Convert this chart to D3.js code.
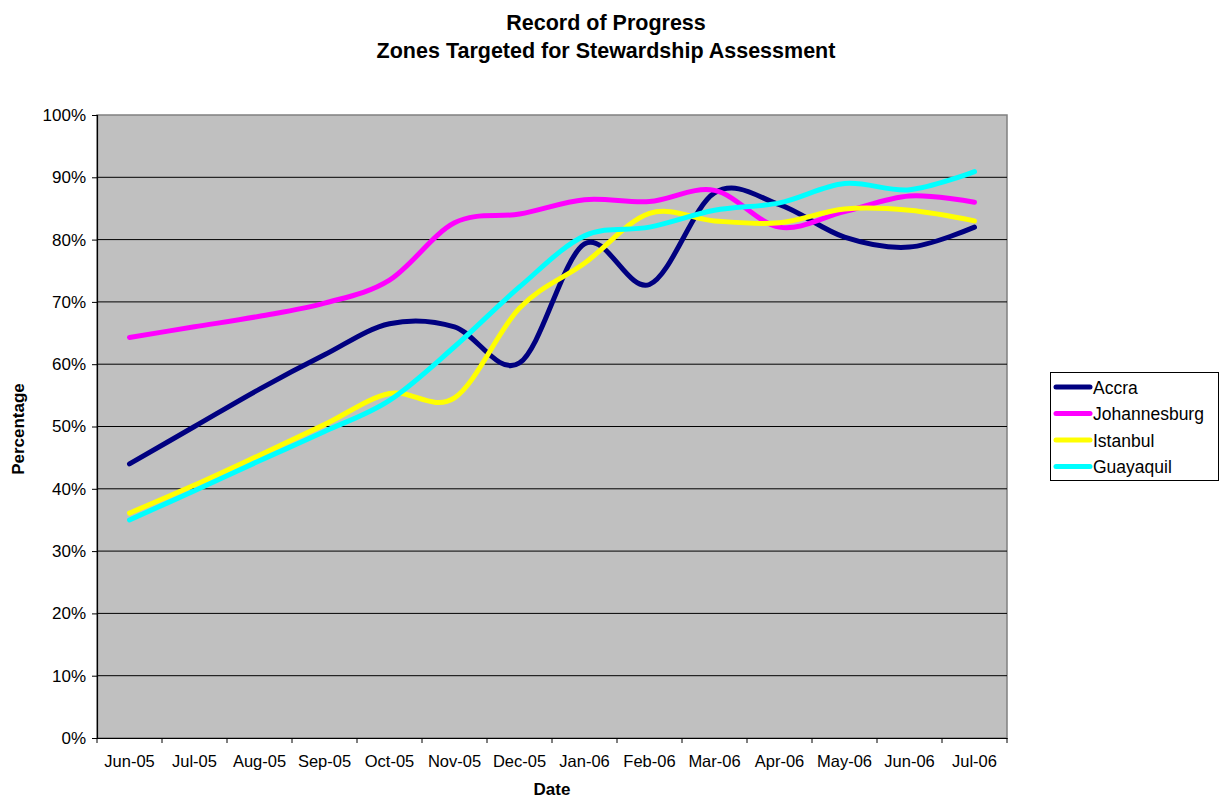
<!DOCTYPE html>
<html>
<head>
<meta charset="utf-8">
<script src="https://cdn.jsdelivr.net/npm/d3@7"></script>
<style>
  body { margin: 0; background: #fff; }
  text { font-family: "Liberation Sans", Arial, sans-serif; }
</style>
</head>
<body>
<script>
// chart data
const months = ["Jun-05", "Jul-05", "Aug-05", "Sep-05", "Oct-05", "Nov-05", "Dec-05",
                "Jan-06", "Feb-06", "Mar-06", "Apr-06", "May-06", "Jun-06", "Jul-06"];
const accra        = [44, 50, 56, 61.5, 66.5, 66, 60.2, 79.3, 72.8, 87.5, 85.6, 80.4, 78.8, 82];
const johannesburg = [64.3, 66, 67.7, 69.8, 73.5, 82.7, 84.1, 86.4, 86.1, 87.9, 82, 84.5, 87, 86];
const istanbul     = [36.1, 40.6, 45.4, 50.3, 55.3, 54.6, 69, 76.2, 84.2, 83, 82.7, 84.9, 84.7, 83];
const guayaquil    = [35, 39.7, 44.5, 49.2, 54.2, 62.8, 72.4, 80.6, 82, 84.7, 85.9, 89, 88, 90.9];
const seriesNames  = ["Accra", "Johannesburg", "Istanbul", "Guayaquil"];
const seriesColors = ["#000080", "#FF00FF", "#FFFF00", "#00FFFF"];
const yTicks = [0, 10, 20, 30, 40, 50, 60, 70, 80, 90, 100];

const series = [accra, johannesburg, istanbul, guayaquil];

width = 1224;
height = 798;

const svg = d3.select('body')
            .append('svg')
            .attr('width', width)
            .attr('height', height)
            .attr('viewBox', [0, 0, width, height]);

const plot = {left: 97, right: 1007, top: 115, bottom: 738};

const x = d3.scaleBand()
        .domain(months)
        .range([plot.left, plot.right]);

const y = d3.scaleLinear()
        .domain([0, 100])
        .range([plot.bottom, plot.top]);

// plot area background
svg.append("rect")
    .attr("x", plot.left)
    .attr("y", plot.top)
    .attr("width", plot.right - plot.left)
    .attr("height", plot.bottom - plot.top)
    .attr("fill", "#C0C0C0")
    .attr("stroke", "#808080")
    .attr("stroke-width", 1.5);

// gridlines
svg.append("g")
    .selectAll("line")
    .data(yTicks.slice(1, -1))
    .enter()
    .append("line")
    .attr("x1", plot.left)
    .attr("x2", plot.right)
    .attr("y1", d => y(d))
    .attr("y2", d => y(d))
    .attr("stroke", "#000")
    .attr("stroke-width", 1);

// y axis
const yAxis = d3.axisLeft(y)
        .tickValues(yTicks)
        .tickFormat(d => d + "%")
        .tickSize(5)
        .tickPadding(6);

const gy = svg.append("g")
    .attr("transform", `translate(${plot.left},0)`)
    .call(yAxis);
gy.select(".domain").attr("stroke", "#000").attr("stroke-width", 1.2);
gy.selectAll(".tick line").attr("stroke", "#000");
gy.selectAll("text")
    .attr("font-size", 17)
    .attr("fill", "#000")
    .style("font-family", '"Liberation Sans", Arial, sans-serif');

// x axis, ticks between categories
const xAxis = d3.axisBottom(x)
        .tickSize(0)
        .tickPadding(17);

const gx = svg.append("g")
    .attr("transform", `translate(0,${plot.bottom})`)
    .call(xAxis);
gx.select(".domain").attr("stroke", "#000").attr("stroke-width", 1.2);
gx.selectAll("text")
    .attr("font-size", 16.5)
    .attr("fill", "#000")
    .style("font-family", '"Liberation Sans", Arial, sans-serif');

svg.append("g")
    .selectAll("line")
    .data(months.concat(["end"]))
    .enter()
    .append("line")
    .attr("x1", (d, i) => plot.left + i * x.step())
    .attr("x2", (d, i) => plot.left + i * x.step())
    .attr("y1", plot.bottom)
    .attr("y2", plot.bottom + 5)
    .attr("stroke", "#000");

// lines
const line = d3.line()
        .x((d, i) => x(months[i]) + x.bandwidth() / 2)
        .y(d => y(d))
        .curve(d3.curveCardinal.tension(0));

svg.append("g")
    .selectAll("path")
    .data(series)
    .enter()
    .append("path")
    .attr("d", line)
    .attr("fill", "none")
    .attr("stroke", (d, i) => seriesColors[i])
    .attr("stroke-width", 5)
    .attr("stroke-linecap", "round")
    .attr("stroke-linejoin", "round");

// titles
svg.append("text")
    .attr("x", 606)
    .attr("y", 30)
    .attr("text-anchor", "middle")
    .attr("font-size", 21.5)
    .attr("font-weight", "bold")
    .text("Record of Progress");

svg.append("text")
    .attr("x", 606)
    .attr("y", 58)
    .attr("text-anchor", "middle")
    .attr("font-size", 21.5)
    .attr("font-weight", "bold")
    .text("Zones Targeted for Stewardship Assessment");

svg.append("text")
    .attr("x", 552)
    .attr("y", 795)
    .attr("text-anchor", "middle")
    .attr("font-size", 17)
    .attr("font-weight", "bold")
    .text("Date");

svg.append("text")
    .attr("transform", "translate(24,429) rotate(-90)")
    .attr("text-anchor", "middle")
    .attr("font-size", 17)
    .attr("font-weight", "bold")
    .text("Percentage");

// legend
const legend = svg.append("g");
legend.append("rect")
    .attr("x", 1050.5)
    .attr("y", 372.5)
    .attr("width", 168)
    .attr("height", 108)
    .attr("fill", "#fff")
    .attr("stroke", "#000");

const items = legend.selectAll("g.item")
    .data(seriesNames)
    .enter()
    .append("g")
    .attr("class", "item")
    .attr("transform", (d, i) => `translate(0,${387 + i * 26.5})`);

items.append("line")
    .attr("x1", 1056)
    .attr("x2", 1090)
    .attr("stroke", (d, i) => seriesColors[i])
    .attr("stroke-width", 5)
    .attr("stroke-linecap", "round");

items.append("text")
    .attr("x", 1093)
    .attr("y", 6.5)
    .attr("font-size", 17.5)
    .text(d => d);
</script>
</body>
</html>
